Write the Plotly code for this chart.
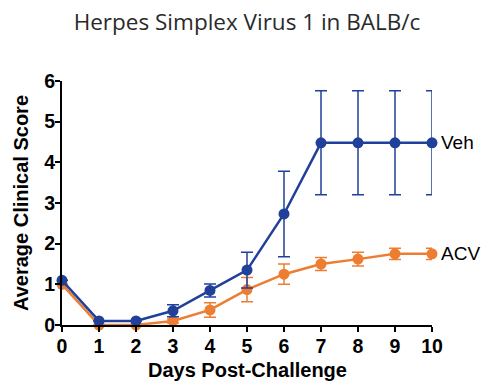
import plotly.graph_objects as go

days = [0, 1, 2, 3, 4, 5, 6, 7, 8, 9, 10]
veh = [1.1, 0.1, 0.1, 0.35, 0.85, 1.35, 2.73, 4.48, 4.48, 4.48, 4.48]
veh_err = [0.0, 0.0, 0.0, 0.15, 0.16, 0.44, 1.05, 1.28, 1.28, 1.28, 1.28]
acv = [1.0, 0.0, 0.0, 0.1, 0.37, 0.87, 1.25, 1.5, 1.62, 1.75, 1.75]
acv_err = [0.0, 0.0, 0.0, 0.05, 0.18, 0.3, 0.25, 0.16, 0.17, 0.14, 0.14]

blue = "#21409a"
orange = "#ed7d31"
FONT = "Liberation Sans, Arial, sans-serif"

W, H = 494, 391

fig = go.Figure()
fig.add_trace(go.Scatter(
    x=days, y=acv, mode="lines+markers",
    line=dict(color=orange, width=2.5),
    marker=dict(color=orange, size=11),
    error_y=dict(type="data", array=acv_err, color=orange, thickness=1.5, width=6),
    cliponaxis=False, showlegend=False,
))
fig.add_trace(go.Scatter(
    x=days, y=veh, mode="lines+markers",
    line=dict(color=blue, width=2.5),
    marker=dict(color=blue, size=11),
    error_y=dict(type="data", array=veh_err, color=blue, thickness=1.5, width=6),
    cliponaxis=False, showlegend=False,
))

fig.add_annotation(x=days[-1], y=veh[-1], text="Veh", showarrow=False,
                   xanchor="left", xshift=7, font=dict(family=FONT, size=19, color="black"))
fig.add_annotation(x=days[-1], y=acv[-1], text="ACV", showarrow=False,
                   xanchor="left", xshift=7, font=dict(family=FONT, size=19, color="black"))
# x-axis title
fig.add_annotation(xref="paper", yref="paper", x=0.5, y=0, yanchor="middle",
                   yshift=-45, text="Days Post-Challenge", showarrow=False,
                   borderpad=0,
                   font=dict(family=FONT, size=20, color="black", weight="bold"))

axis_common = dict(
    showgrid=False, zeroline=False, automargin=False,
    showline=True, linecolor="black", linewidth=2,
    ticks="outside", ticklen=5, tickwidth=2, tickcolor="black",
    tickfont=dict(family=FONT, size=19.5, color="black", weight="bold"),
)

fig.update_layout(
    width=W, height=H,
    margin=dict(l=62, r=62, t=81, b=66),
    plot_bgcolor="white", paper_bgcolor="white",
    title=dict(text="Herpes Simplex Virus 1 in BALB/c", x=247 / W, xanchor="center",
               y=1 - 22 / H, yanchor="middle",
               font=dict(family="Open Sans", size=22.5, color="#2a2a2a")),
    xaxis=dict(range=[0, 10], tickmode="array", tickvals=days,
               ticklabelstandoff=-2,
               **axis_common),
    yaxis=dict(range=[0, 6], tickvals=[0, 1, 2, 3, 4, 5, 6],
               ticklabelstandoff=-4,
               title=dict(text="Average Clinical Score", standoff=10,
                          font=dict(family=FONT, size=20, color="black", weight="bold")),
               **axis_common),
)

fig.write_html("out.html", config={"displayModeBar": False},
               post_script="document.body.style.margin='0';")
